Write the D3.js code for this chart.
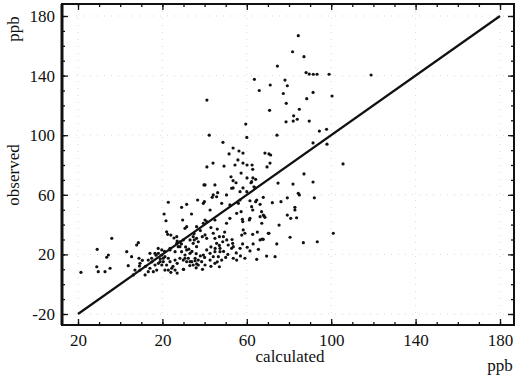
<!DOCTYPE html>
<html>
<head>
<meta charset="utf-8">
<script src="https://cdn.jsdelivr.net/npm/d3@7"></script>
<style>
  body { margin: 0; background: #fff; }
  svg text { font-family: "Liberation Serif", "DejaVu Serif", serif; fill: #111; }
</style>
</head>
<body>
<svg id="chart" width="516" height="375"></svg>
<script>
// tick values and the labels printed under them (minus sign lost on x in the original)
const xTicks = [-20, 20, 60, 100, 140, 180];
const xTickLabels = ["20", "20", "60", "100", "140", "180"];
const yTicks = [-20, 20, 60, 100, 140, 180];
const yTickLabels = ["-20", "20", "60", "100", "140", "180"];
const lineEnds = [-20, 180];

// calculated (x) / observed (y), ppb
const calculated = [
  84.4,81.7,87.1,74.5,88.1,89.6,91.5,93.3,99,118.9,63.6,78.1,71.1,79.2,65.9,77.3,91.4,100.4,41.1,88.4,
  78.7,70.8,84.9,82.2,78.6,82,83.9,89.6,59.5,42.2,60,74.3,94.4,97.8,48.7,98,91.4,53.5,56.3,58.2,
  51.6,55.8,58.2,60.1,62.5,68.6,70.5,71.3,71,41.1,44,49.2,54.4,69.6,105.6,62.8,52.5,53.5,54.9,57.3,
  60.1,62.9,62,39.7,44.9,53.5,58.2,63.9,74.8,81.9,91.4,87.1,62.3,64.2,63.4,84.4,84.9,92,64.7,64.2,
  67.8,66.3,72.1,76.2,79.2,82.8,82.8,62.8,67,68.2,68.6,79.2,80.8,83.6,75.3,62.8,67.3,70.5,80.5,86.8,
  93.4,101,74.2,73.4,69.4,64.7,
  22.8,29.1,31.5,36.7,39.4,39.9,43.6,45.7,44.1,46.2,48.1,52,56.8,60,67.8,20.8,21.7,33.8,42.6,29.6,
  55.2,57.3,58.1,57.9,52,44.9,39.4,41,40.2,36.2,31.5,30.7,61.5,61.2,50.4,66.3,67.1,22,22.5,26.8,
  28.3,34.6,36.2,33.1,35.1,37,38.9,40.2,41,44.1,44.9,47,48.9,48.6,45.7,50.5,51.2,52.8,53.3,53.6,
  47.3,57.6,59.1,58.3,56.8,60.2,61.5,65.5,67.8,66.3,70.2,53.6,55.2,59.1,47.3,46.5,48.1,47,41,42.6,
  44.1,42.6,39.4,38.6,37,40.2,44.9,44.9,30.7,32.3,33.9,34.6,35.5,36.2,31.5,29.9,28.3,29.1,26,27.5,
  23.6,19.7,21.2,20.4,22,23.6,24.4,26,22.8,21.2,19.7,62.3,61.5,56.8,56,50.4,40.2,52.8,
  -4,-10.9,-5.6,-6.4,3.1,5.4,7.8,8.6,-11.1,-10.4,-7.2,-4.8,8.9,9.4,9.4,9.1,7,6.2,13.3,14.9,
  14.1,16.5,17.3,15.7,13.3,11.8,18.1,-18.6,3.8,
  26.8,28.3,29.9,31.5,33.1,34.6,36.2,30.7,33.1,35.5,37,23.6,22.8,26,18.1,19.7,20.4,18.9,16.5,14.1,
  24,25.5,27,29,31,32.5,34,36,38,40,43,45,47,49,51,50,46,43,39,36,
  33,30,27,25,24,27,30,19,17,15,12,10.5,21,18,55,57,53,49.5,46,38,
  35,43,58,63,65
];
const observed = [
  166.8,156,152.7,146.4,142,141,140.9,140.9,140.9,140.4,137.5,137,133.7,133.2,130,128,128.7,126.3,123.6,124.5,
  121.4,116.7,117.4,113,109,109.5,110.7,109.5,107.5,100,98.5,100,102.8,104,95.2,94,94.8,91.4,89.4,88,
  87.4,83.4,81.3,80,80,88,87.4,86.7,81.3,78.7,81.3,79.3,80,78.7,80.7,77.1,72.1,69.5,68.1,74.6,
  71.3,71.3,68.1,66.6,66.6,64.6,64.6,64.6,67.9,67.2,68.6,74,68.8,70.4,65.4,61,59.9,58,56.5,55.4,
  58.3,53.6,54.7,55.4,58,51.6,49.8,49.8,48.7,45.8,44.9,46.4,44.2,44.6,39.7,33.5,30.3,34.2,31.5,27.9,
  28.5,34.2,27,18.5,18.9,16.7,
  55,51.6,53.6,56.5,54.3,55.4,58.3,58.7,59.9,61.4,54.3,53.2,62.1,62.1,46.4,47.1,42.6,47.1,49.8,43.1,
  47.6,48.7,42,43.6,44.2,43.1,40.9,42,43.1,38.6,38.6,37.5,44.2,43.1,40.9,45.3,40.9,35.2,33.5,31.9,
  28.5,31.9,30.8,29.7,29.7,28.5,31.9,33.1,30.8,34.2,30.8,31.9,31.9,28.5,27.4,29.7,26.3,24.1,27.4,25.2,
  24.1,33,34.2,36.4,24.1,24.8,22.3,23.4,30.1,29.7,34.2,17.4,16.2,17.4,21.8,18.5,16.2,11.7,23,20.7,
  18.5,16.2,19.6,15.1,16.2,12.9,14,21.8,19.6,17.4,15.1,12.9,15.8,13.6,15.1,16.2,17.4,21.8,21.8,25.2,
  24.1,19.6,18.5,15.1,12.9,15.1,10.7,9.5,9.5,9.5,12.9,52,56,56.5,54.3,59.9,66.6,64.4,
  30.8,23.4,19.6,18.1,21.8,18.5,26.3,27.9,11.7,8.4,8.4,10.7,17.4,14,9.5,12.2,9.5,6.2,16.2,17.4,
  10.7,12.9,9.5,8.4,8.4,6.2,14,8,12.4,
  27.4,25.2,29.7,23,20.7,27.4,25.2,17.4,15.1,17.4,12.9,23,17.4,16.2,20.7,23,17.4,15.1,20.7,20.7,
  33,31,29,27,25,23.5,22,20.5,19,18,25,24,26,22,20,18,15,12,10,11,
  12.5,10,14,12,8,7.5,10,17,19.5,15,12,16,22,24,21,19,30,35,37,36,
  34,38,27,27,35
];

const svg = d3.select("#chart");
const frame = { left: 62, right: 514, top: 4, bottom: 325 };

const x = d3.scaleLinear().domain([-20, 180]).range([78, 500]);
const y = d3.scaleLinear().domain([-20, 180]).range([314, 16]);

const minorTicks = d3.range(-20, 181, 10);

// faint dotted grid at the major ticks
svg.append("g")
  .selectAll("line.gx")
  .data(xTicks)
  .enter().append("line")
  .attr("x1", d => x(d)).attr("x2", d => x(d))
  .attr("y1", frame.top).attr("y2", frame.bottom)
  .attr("stroke", "#cfcfcf").attr("stroke-width", 0.8)
  .attr("stroke-dasharray", "1,6");
svg.append("g")
  .selectAll("line.gy")
  .data(yTicks)
  .enter().append("line")
  .attr("y1", d => y(d)).attr("y2", d => y(d))
  .attr("x1", frame.left).attr("x2", frame.right)
  .attr("stroke", "#cfcfcf").attr("stroke-width", 0.8)
  .attr("stroke-dasharray", "1,6");

// axes: inward ticks on all four sides, no domain path (frame is drawn separately)
function styleAxis(g) {
  g.select(".domain").remove();
  g.selectAll(".tick line").attr("stroke", "#111").attr("stroke-width", 1.3);
}
svg.append("g")
  .attr("transform", `translate(0,${frame.bottom})`)
  .call(d3.axisBottom(x).tickValues(minorTicks).tickSize(-3).tickFormat(""))
  .call(styleAxis);
svg.append("g")
  .attr("transform", `translate(0,${frame.bottom})`)
  .call(d3.axisBottom(x).tickValues(xTicks).tickSize(-6).tickPadding(9)
    .tickFormat((d, i) => xTickLabels[i]))
  .call(styleAxis)
  .selectAll("text").attr("font-size", 17);
svg.append("g")
  .attr("transform", `translate(0,${frame.top})`)
  .call(d3.axisTop(x).tickValues(xTicks).tickSize(-6).tickFormat(""))
  .call(styleAxis);
svg.append("g")
  .attr("transform", `translate(0,${frame.top})`)
  .call(d3.axisTop(x).tickValues(minorTicks).tickSize(-3).tickFormat(""))
  .call(styleAxis);

svg.append("g")
  .attr("transform", `translate(${frame.left},0)`)
  .call(d3.axisLeft(y).tickValues(minorTicks).tickSize(-3).tickFormat(""))
  .call(styleAxis);
svg.append("g")
  .attr("transform", `translate(${frame.left},0)`)
  .call(d3.axisLeft(y).tickValues(yTicks).tickSize(-6).tickPadding(7)
    .tickFormat((d, i) => yTickLabels[i]))
  .call(styleAxis)
  .selectAll("text").attr("font-size", 17);
svg.append("g")
  .attr("transform", `translate(${frame.right},0)`)
  .call(d3.axisRight(y).tickValues(minorTicks).tickSize(-3).tickFormat(""))
  .call(styleAxis);
svg.append("g")
  .attr("transform", `translate(${frame.right},0)`)
  .call(d3.axisRight(y).tickValues(yTicks).tickSize(-6).tickFormat(""))
  .call(styleAxis);

// frame, left side a bit heavier like the scan
svg.append("rect")
  .attr("x", frame.left).attr("y", frame.top)
  .attr("width", frame.right - frame.left).attr("height", frame.bottom - frame.top)
  .attr("fill", "none").attr("stroke", "#111").attr("stroke-width", 2);
svg.append("line")
  .attr("x1", frame.left).attr("x2", frame.left)
  .attr("y1", frame.top).attr("y2", frame.bottom)
  .attr("stroke", "#111").attr("stroke-width", 3);

// 1:1 line
svg.append("line")
  .attr("x1", x(lineEnds[0])).attr("y1", y(lineEnds[0]))
  .attr("x2", x(lineEnds[1])).attr("y2", y(lineEnds[1]))
  .attr("stroke", "#111").attr("stroke-width", 2.2);

// points
svg.append("g")
  .selectAll("circle")
  .data(calculated.map((c, i) => [c, observed[i]]))
  .enter().append("circle")
  .attr("cx", d => x(d[0]))
  .attr("cy", d => y(d[1]))
  .attr("r", 1.6)
  .attr("fill", "#111");

// axis titles
svg.append("text")
  .attr("x", 290).attr("y", 362)
  .attr("text-anchor", "middle").attr("font-size", 17)
  .text("calculated");
svg.append("text")
  .attr("x", 500).attr("y", 371)
  .attr("text-anchor", "middle").attr("font-size", 17)
  .text("ppb");
svg.append("text")
  .attr("transform", "translate(19,175) rotate(-90)")
  .attr("text-anchor", "middle").attr("font-size", 17)
  .text("observed");
svg.append("text")
  .attr("transform", "translate(19,29) rotate(-90)")
  .attr("text-anchor", "middle").attr("font-size", 17)
  .text("ppb");
</script>
</body>
</html>
